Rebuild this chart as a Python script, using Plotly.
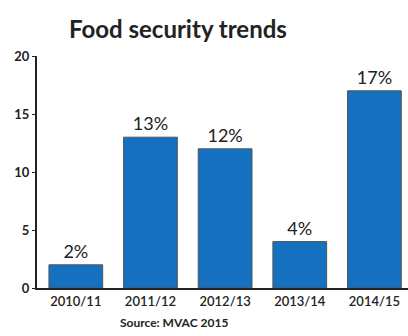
import plotly.graph_objects as go

categories = ["2010/11", "2011/12", "2012/13", "2013/14", "2014/15"]
values = [2, 13, 12, 4, 17]
labels = ["2%", "13%", "12%", "4%", "17%"]
y_ticks = [0, 5, 10, 15, 20]

fig = go.Figure(go.Bar(
    x=categories, y=values, text=labels,
    textposition="outside", cliponaxis=False,
    textfont=dict(family="Lato", size=18, color="#222"),
    marker=dict(color="#1670c0", line=dict(color="#555", width=1)),
))

fig.update_layout(
    width=408, height=336,
    margin=dict(l=37, r=0, t=56, b=48),
    plot_bgcolor="white", paper_bgcolor="white",
    bargap=0.28,
    showlegend=False,
    title=dict(text="<b>Food security trends</b>", x=0.436, xanchor="center",
               y=0.912, yanchor="middle", yref="container",
               font=dict(family="Lato", size=24, color="#222")),
    annotations=[dict(text="<b>Source: MVAC 2015</b>", xref="paper", yref="paper",
                      x=0.37, y=-0.15, xanchor="center", yanchor="middle", showarrow=False,
                      font=dict(family="Lato", size=12, color="#222"))],
)
fig.update_xaxes(range=[-0.52, 4.45], showline=True, linecolor="#222", linewidth=2,
                 ticks="", ticklabelstandoff=0,
                 tickfont=dict(family="Lato", size=13, color="#222", weight=600))
fig.update_yaxes(range=[0, 20], tickvals=y_ticks, showline=True, linecolor="#222", linewidth=2,
                 ticks="outside", ticklen=3, tickcolor="#222", showgrid=False, zeroline=False,
                 tickfont=dict(family="Lato", size=13, color="#222", weight="bold"))

fig.write_html("out.html")
